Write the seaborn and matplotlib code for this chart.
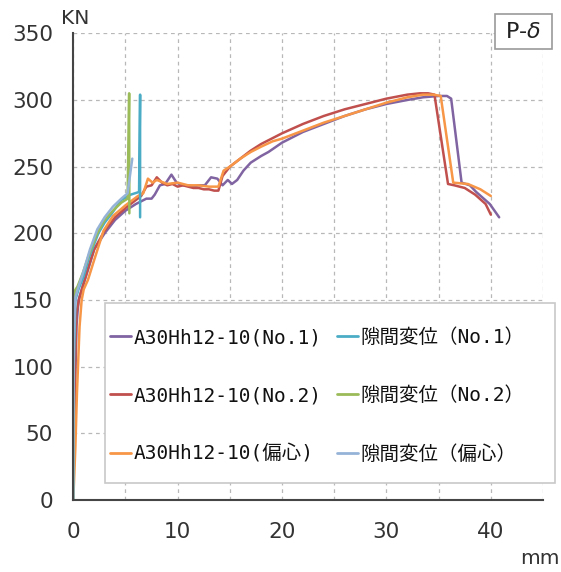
import numpy as np
import pandas as pd
import matplotlib
matplotlib.use("Agg")
import matplotlib.pyplot as plt
import seaborn as sns
from matplotlib.patches import Rectangle
from matplotlib.lines import Line2D
from matplotlib.ticker import MultipleLocator

# ---------------- data ----------------
series_names = ["A30Hh12-10(No.1)", "A30Hh12-10(No.2)", "A30Hh12-10(偏心)",
                "隙間変位（No.1）", "隙間変位（No.2）", "隙間変位（偏心）"]
series_colors = ["#8064A2", "#C0504D", "#F79646", "#4BACC6", "#9BBB59", "#95B3D7"]

no1_x = [0, 0.1, 0.3, 0.5, 0.9, 1.5, 2.0, 3.0, 4.0, 5.0, 6.0, 7.0, 7.5, 7.8, 8.3, 8.8,
         9.4, 9.9, 10.5, 11.0, 11.5, 12.0, 12.6, 13.2, 13.8, 14.3, 14.8, 15.2, 15.7,
         16.3, 17.0, 18.0, 18.7, 20.0, 22.0, 24.0, 26.0, 28.0, 30.0, 32.0, 33.5, 35.0,
         35.8, 36.2, 37.2, 38.0, 38.6, 39.9, 40.8]
no1_y = [0, 60, 130, 150, 160, 175, 188, 200, 210, 217, 222, 226, 226, 229, 236, 237,
         244, 238, 236, 236, 235, 236, 236, 242, 241, 236, 240, 237, 240,
         247, 253, 258, 261, 268, 276, 282, 288, 293, 297, 300, 302, 303,
         303, 301, 238, 236, 231, 222, 212]

no2_x = [0, 0.1, 0.3, 0.6, 1.0, 1.5, 2.0, 3.0, 4.0, 5.0, 6.0, 6.5, 7.0, 7.5, 8.0, 8.5,
         9.0, 9.5, 10.0, 10.5, 11.0, 11.5, 12.0, 12.5, 13.0, 13.5, 13.9, 14.3, 15.0,
         16.0, 17.0, 18.0, 19.0, 20.0, 22.0, 24.0, 26.0, 28.0, 30.0, 32.0, 33.2, 34.0,
         34.6, 35.9, 36.5, 37.5, 38.5, 39.5, 40.0]
no2_y = [0, 70, 140, 152, 163, 176, 188, 202, 212, 219, 225, 228, 235, 236, 242, 238,
         236, 237, 235, 236, 235, 234, 234, 233, 233, 232, 232, 243, 250,
         256, 262, 267, 271, 275, 282, 288, 293, 297, 301, 304, 305, 305,
         304, 237, 236, 234, 229, 222, 214]

ecc_x = [0, 0.2, 0.35, 0.6, 0.8, 1.0, 1.4, 2.0, 2.9, 3.8, 5.0, 6.2, 6.7, 7.15, 7.6,
         8.0, 9.0, 10.0, 11.0, 12.0, 13.0, 13.9, 14.4, 15.0, 16.0, 17.0, 18.0, 19.1,
         20.0, 22.0, 24.0, 26.0, 28.0, 30.0, 32.0, 33.5, 34.5, 35.2, 36.4, 37.8, 39.0,
         40.0]
ecc_y = [0, 40, 80, 130, 150, 158, 165, 180, 202, 213, 221, 228, 230, 241, 238,
         240, 237, 238, 236, 236, 235, 235, 247, 250, 256, 261, 265, 269,
         271, 277, 283, 288, 293, 298, 302, 304, 304, 303, 238, 237, 233,
         228]

gap1_x = [0, 0.05, 0.2, 0.5, 1.0, 1.5, 2.4, 3.0, 3.7, 4.6, 5.5, 6.3, 6.4, 6.4]
gap1_y = [0, 100, 150, 158, 168, 182, 200, 208, 215, 225, 229, 231, 304, 212]

gap2_x = [0, 0.05, 0.15, 0.4, 0.9, 1.5, 2.3, 3.0, 3.8, 4.6, 5.2, 5.35, 5.37]
gap2_y = [0, 130, 157, 160, 170, 184, 200, 210, 217, 223, 226, 305, 215]

gap3_x = [0, 0.05, 0.2, 0.5, 1.0, 1.6, 2.3, 3.0, 3.8, 4.6, 5.2, 5.65]
gap3_y = [0, 120, 152, 160, 172, 188, 203, 212, 220, 226, 230, 256]

x_ticks = [0, 10, 20, 30, 40]
y_ticks = [0, 50, 100, 150, 200, 250, 300, 350]

# ---------------- build table ----------------
all_x = [no1_x, no2_x, ecc_x, gap1_x, gap2_x, gap3_x]
all_y = [no1_y, no2_y, ecc_y, gap1_y, gap2_y, gap3_y]
frames = []
for name, xs, ys in zip(series_names, all_x, all_y):
    frames.append(pd.DataFrame({"x": xs, "y": ys, "series": name,
                                "order": np.arange(len(xs))}))
df = pd.concat(frames, ignore_index=True)
palette = dict(zip(series_names, series_colors))

# ---------------- figure ----------------
sns.set_style("white")
plt.rcParams["font.family"] = ["DejaVu Sans", "Noto Sans CJK JP"]
plt.rcParams["mathtext.fontset"] = "dejavusans"

W, H = 561, 572
fig = plt.figure(figsize=(W / 100, H / 100), dpi=100)
L, R, T, B = 73.3, 543.0, 33.3, 500.0
ax = fig.add_axes([L / W, 1 - B / H, (R - L) / W, (B - T) / H])

sns.lineplot(data=df, x="x", y="y", hue="series", hue_order=series_names,
             palette=palette, sort=False, estimator=None, units="series",
             linewidth=1.8, legend=False, ax=ax)

ax.set_xlim(0, 45)
ax.set_ylim(0, 350)
ax.set_xticks(x_ticks)
ax.xaxis.set_minor_locator(MultipleLocator(5))
ax.set_yticks(y_ticks)
ax.set_xlabel("")
ax.set_ylabel("")

grid_kw = dict(linestyle=(0, (3, 3)), color="#b8b8b8", linewidth=0.9)
ax.grid(True, which="both", axis="x", **grid_kw)
ax.grid(True, which="major", axis="y", **grid_kw)
ax.set_axisbelow(True)

for s in ["top", "right"]:
    ax.spines[s].set_visible(False)
for s in ["left", "bottom"]:
    ax.spines[s].set_color("#454545")
    ax.spines[s].set_linewidth(1.5)

ax.tick_params(which="both", direction="in", length=6, width=1.0, color="#555555",
               labelsize=15.5, labelcolor="#333333")
ax.tick_params(axis="y", pad=14.5)
ax.tick_params(axis="x", pad=16)

# unit labels
fig.text(75 / W, 1 - 19 / H, "KN", ha="center", va="center", fontsize=14.5, color="#333333")
fig.text(540 / W, 1 - 558 / H, "mm", ha="center", va="center", fontsize=14.5, color="#333333")

# P-δ box
pbox = Rectangle((495 / W, 1 - 49.3 / H), (551.7 - 495) / W, (49.3 - 14) / H,
                 transform=fig.transFigure, facecolor="white", edgecolor="#9a9a9a",
                 linewidth=1.2, zorder=3)
fig.add_artist(pbox)
fig.text(523 / W, 1 - 32 / H, "P-$\\delta$", ha="center", va="center", fontsize=16,
         color="#222222", zorder=4)

# legend box
lbox = Rectangle((105 / W, 1 - 483 / H), (555 - 105) / W, (483 - 303) / H,
                 transform=fig.transFigure, facecolor="white", edgecolor="#c8c8c8",
                 linewidth=1.2, zorder=3)
fig.add_artist(lbox)

handles = [Line2D([], [], color=c, linewidth=2.0) for c in series_colors]
leg_font = {"family": ["DejaVu Sans Mono", "Noto Sans CJK JP"], "size": 14}
leg_kw = dict(loc="upper left", bbox_transform=fig.transFigure, frameon=False,
              borderpad=0, borderaxespad=0, handlelength=1.1, handletextpad=0.1,
              labelspacing=2.02, prop=leg_font)
leg1 = fig.legend(handles[:3], series_names[:3], bbox_to_anchor=(110 / W, 1 - 328 / H), **leg_kw)
leg2 = fig.legend(handles[3:], series_names[3:], bbox_to_anchor=(336.7 / W, 1 - 328 / H), **leg_kw)
for lg in (leg1, leg2):
    lg.set_zorder(6)
    for t in lg.get_texts():
        t.set_color("#111111")

fig.savefig("out.png", dpi=100)
